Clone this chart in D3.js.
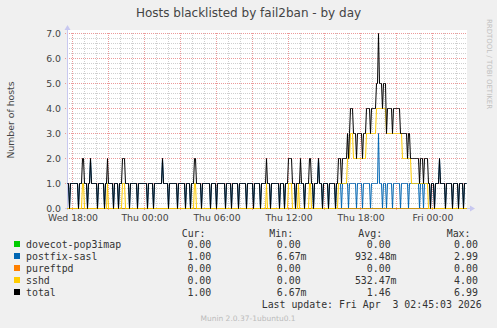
<!DOCTYPE html>
<html>
<head>
<meta charset="utf-8">
<script src="https://cdn.jsdelivr.net/npm/d3@7"></script>
<style>
  body { margin: 0; background: #f0f0f0; }
  text { font-family: "DejaVu Sans", sans-serif; fill: #333; }
  .mono { font-family: "DejaVu Sans Mono", monospace; }
</style>
</head>
<body>
<div id="chart"></div>
<script>
// Sets dimensions
const width = 497;
const height = 328;
const plot = { left: 67, right: 467, top: 33, bottom: 208 };

// Time axis: one sample every 5 minutes
const startTime = new Date(2026, 3, 1, 17, 35);
const stepMinutes = 5;
const sampleCount = 400;

const seriesNames = ["dovecot-pop3imap", "postfix-sasl", "pureftpd", "sshd", "total"];
const seriesColors = ["#00CC00", "#0066B3", "#FF8000", "#FFCC00", "#000000"];
const yTicks = [0, 1, 2, 3, 4, 5, 6, 7];

// Values per 5-minute sample, one digit each, 50 samples per row
const dovecotPop3imap = [
  "00000000000000000000000000000000000000000000000000",
  "00000000000000000000000000000000000000000000000000",
  "00000000000000000000000000000000000000000000000000",
  "00000000000000000000000000000000000000000000000000",
  "00000000000000000000000000000000000000000000000000",
  "00000000000000000000000000000000000000000000000000",
  "00000000000000000000000000000000000000000000000000",
  "00000000000000000000000000000000000000000000000000"
];
const postfixSasl = [
  "11011111111011111111011211111101111110111111110111",
  "10111111111101111111011111111101111101111111121111",
  "10111111110111111101111011111111110111111110111110",
  "11111111011111011111101111111011111101111110111111",
  "11101111111101111011111111110111111110111111110111",
  "12111011111011111101111101111110111111101111101111",
  "11101111111311101110111110111111101111111011111111",
  "11011101111110111011112111110111111011111011110111"
];
const pureftpd = [
  "00000000000000000000000000000000000000000000000000",
  "00000000000000000000000000000000000000000000000000",
  "00000000000000000000000000000000000000000000000000",
  "00000000000000000000000000000000000000000000000000",
  "00000000000000000000000000000000000000000000000000",
  "00000000000000000000000000000000000000000000000000",
  "00000000000000000000000000000000000000000000000000",
  "00000000000000000000000000000000000000000000000000"
];
const sshd = [
  "00000000000000011000000000000000000000001000000000",
  "00000111000000000000000000000000000000000000000000",
  "00000000000000000000000000011000000000000000000000",
  "00000000000000000000000000000000000000000000000001",
  "00000000000000000000011110000001000000000011000000",
  "00000000000000000000011111111122233322222222222223",
  "33333333344444444443333333333333333222222222111111",
  "11111111111000000000000000000000000000000000000000"
];
const total = [
  "11011111111011122111011211111101111110112111110111",
  "10111222111101111111011111111101111101111111121111",
  "10111111110111111101111011122111110111111110111110",
  "11111111011111011111101111111011111101111110111112",
  "11101111111101111011122221110111121110111122110111",
  "12111011111011111101122212222232344433323333323334",
  "44434444455755545553444443444444433333332332222222",
  "22122212222110111011112111110111111011111011110111"
];

const cur = ["0.00", "1.00", "0.00", "0.00", "1.00"];
const min = ["0.00", "6.67m", "0.00", "0.00", "6.67m"];
const avg = ["0.00", "932.48m", "0.00", "532.47m", "1.46"];
const max = ["0.00", "2.99", "0.00", "4.00", "6.99"];

const lastUpdate = "Last update: Fri Apr  3 02:45:03 2026";

// Turns the digit rows into {t, v} samples
function parseRows(rows) {
  const digits = rows.join("").split("");
  return digits.map((c, i) => ({
    t: new Date(startTime.getTime() + i * stepMinutes * 60000),
    v: +c
  }));
}
const seriesData = [dovecotPop3imap, postfixSasl, pureftpd, sshd, total].map(parseRows);

const svg = d3.select("#chart")
  .append("svg")
  .attr("width", width)
  .attr("height", height)
  .style("display", "block");

svg.append("rect").attr("width", width).attr("height", height).attr("fill", "#f0f0f0");

// Scales
const endTime = new Date(startTime.getTime() + sampleCount * stepMinutes * 60000);
const x = d3.scaleTime().domain([startTime, endTime]).range([plot.left, plot.right]);
const y = d3.scaleLinear().domain([0, 7]).range([plot.bottom, plot.top]);

// Canvas
svg.append("rect")
  .attr("x", plot.left).attr("y", plot.top - 3)
  .attr("width", plot.right - plot.left).attr("height", plot.bottom - plot.top + 3)
  .attr("fill", "#ffffff");

// Grid
const grid = svg.append("g").attr("shape-rendering", "crispEdges");

const minorY = d3.range(0, 7.01, 0.2).filter(v => Math.abs(v - Math.round(v)) > 0.01);
grid.selectAll(".gy").data(minorY).enter().append("line")
  .attr("x1", plot.left).attr("x2", plot.right)
  .attr("y1", d => Math.round(y(d)) + 0.5).attr("y2", d => Math.round(y(d)) + 0.5)
  .attr("stroke", "#cfcfcf").attr("stroke-dasharray", "1,1");

grid.selectAll(".gx").data(d3.timeHour.every(1).range(startTime, endTime)).enter().append("line")
  .attr("y1", plot.top).attr("y2", plot.bottom)
  .attr("x1", d => Math.round(x(d)) + 0.5).attr("x2", d => Math.round(x(d)) + 0.5)
  .attr("stroke", "#cfcfcf").attr("stroke-dasharray", "1,1");

grid.selectAll(".my").data(yTicks).enter().append("line")
  .attr("x1", plot.left - 2).attr("x2", plot.right)
  .attr("y1", d => Math.round(y(d)) + 0.5).attr("y2", d => Math.round(y(d)) + 0.5)
  .attr("stroke", "#ec9a9a").attr("stroke-dasharray", "1,1");

grid.selectAll(".mx").data(d3.timeHour.every(3).range(startTime, endTime)).enter().append("line")
  .attr("y1", plot.top).attr("y2", plot.bottom + 2)
  .attr("x1", d => Math.round(x(d)) + 0.5).attr("x2", d => Math.round(x(d)) + 0.5)
  .attr("stroke", "#ec9a9a").attr("stroke-dasharray", "1,1");

// Axes lines with arrows
const axisColor = "#c8c8f0";
svg.append("line")
  .attr("x1", plot.left - 2).attr("x2", plot.right + 4)
  .attr("y1", plot.bottom + 0.5).attr("y2", plot.bottom + 0.5)
  .attr("stroke", axisColor).attr("shape-rendering", "crispEdges");
svg.append("line")
  .attr("x1", plot.left + 0.5).attr("x2", plot.left + 0.5)
  .attr("y1", plot.bottom + 2).attr("y2", plot.top - 4)
  .attr("stroke", axisColor).attr("shape-rendering", "crispEdges");
svg.append("path")
  .attr("d", `M${plot.right + 3},${plot.bottom - 2.5}L${plot.right + 8},${plot.bottom + 0.5}L${plot.right + 3},${plot.bottom + 3.5}Z`)
  .attr("fill", axisColor);
svg.append("path")
  .attr("d", `M${plot.left - 2.5},${plot.top - 3}L${plot.left + 0.5},${plot.top - 8}L${plot.left + 3.5},${plot.top - 3}Z`)
  .attr("fill", axisColor);

// Tick labels
svg.append("g").selectAll("text").data(yTicks).enter().append("text")
  .attr("x", plot.left - 6)
  .attr("y", d => y(d) + 3.5)
  .attr("text-anchor", "end")
  .style("font-size", "9.3px")
  .style("fill", "#444")
  .text(d3.format(".1f"));

svg.append("g").selectAll("text").data(d3.timeHour.every(6).range(startTime, endTime)).enter().append("text")
  .attr("x", d => x(d) + 1)
  .attr("y", plot.bottom + 13)
  .attr("text-anchor", "middle")
  .style("font-size", "9.3px")
  .style("fill", "#444")
  .text(d3.timeFormat("%a %H:%M"));

// Data lines
const line = d3.line()
  .x(d => x(d.t) + 0.5)
  .y(d => y(d.v) + 0.5);

seriesData.forEach((data, i) => {
  svg.append("path")
    .datum(data)
    .attr("fill", "none")
    .attr("stroke", seriesColors[i])
    .attr("stroke-width", 1)
    .attr("d", line);
});

// Titles
svg.append("text")
  .attr("x", width / 2).attr("y", 17)
  .attr("text-anchor", "middle")
  .style("font-size", "12px")
  .style("fill", "#444")
  .text("Hosts blacklisted by fail2ban - by day");

svg.append("text")
  .attr("transform", `translate(14, 120) rotate(-90)`)
  .attr("text-anchor", "middle")
  .style("font-size", "9.3px")
  .style("fill", "#444")
  .text("Number of hosts");

svg.append("text")
  .attr("transform", `translate(487, 64) rotate(90)`)
  .attr("text-anchor", "middle")
  .style("font-size", "7px")
  .style("fill", "#c0c0c0")
  .text("RRDTOOL / TOBI OETIKER");

// Legend
const legend = svg.append("g").attr("class", "mono").style("font-size", "9.9px");
const headers = [["Cur:", 181.7], ["Min:", 269.3], ["Avg:", 358.3], ["Max:", 446.7]];
legend.selectAll(".hd").data(headers).enter().append("text")
  .attr("class", "mono")
  .attr("x", d => d[1])
  .attr("y", 236.5)
  .text(d => d[0]);

const colEnds = [211.2, 300.6, 390.6, 477.9];
const rowY = i => 248 + i * 12;

seriesNames.forEach((name, i) => {
  legend.append("rect")
    .attr("x", 14).attr("y", rowY(i) - 7)
    .attr("width", 6).attr("height", 6)
    .attr("fill", seriesColors[i]);
  legend.append("text").attr("class", "mono")
    .attr("x", 26).attr("y", rowY(i)).text(name);
  [cur[i], min[i], avg[i], max[i]].forEach((val, j) => {
    const suffix = /[a-zA-Z]$/.test(val) ? val.slice(-1) : "";
    const num = suffix ? val.slice(0, -1) : val;
    legend.append("text").attr("class", "mono")
      .attr("x", colEnds[j]).attr("y", rowY(i))
      .attr("text-anchor", "end").text(num);
    if (suffix) {
      legend.append("text").attr("class", "mono")
        .attr("x", colEnds[j]).attr("y", rowY(i)).text(suffix);
    }
  });
});

legend.append("text").attr("class", "mono")
  .attr("x", 261.7).attr("y", 308)
  .style("white-space", "pre")
  .text(lastUpdate);

svg.append("text")
  .attr("x", 248).attr("y", 320.5)
  .attr("text-anchor", "middle")
  .style("font-size", "7.5px")
  .style("fill", "#bbbbbb")
  .text("Munin 2.0.37-1ubuntu0.1");
</script>
</body>
</html>
